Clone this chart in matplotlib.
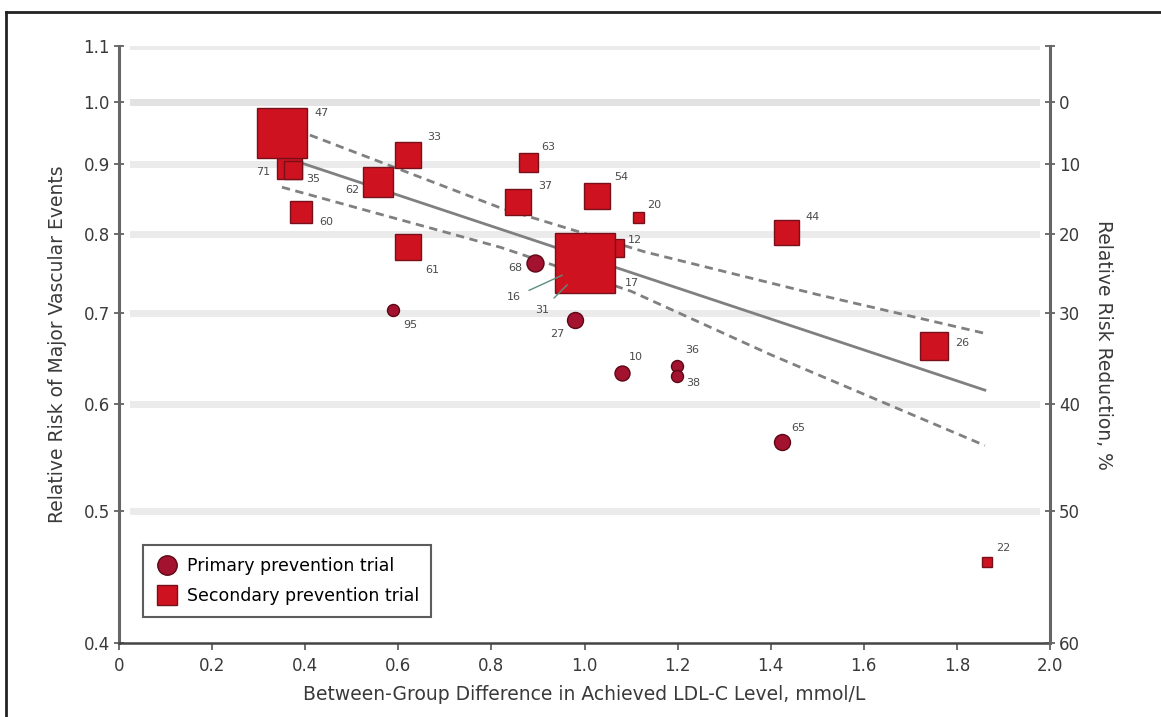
import matplotlib
matplotlib.use("Agg")
import matplotlib.pyplot as plt
from matplotlib.lines import Line2D
from matplotlib.ticker import FixedLocator, FixedFormatter, NullLocator

plt.rcParams['font.family'] = ['DejaVu Sans']

# secondary prevention trials (squares): LDL-C difference, relative risk, marker side (px), label
sec_x = [0.365, 0.374, 0.350, 0.621, 0.556, 0.391, 0.621, 0.879, 0.857, 1.027, 1.115,
         1.065, 0.952, 0.963, 1.001, 1.433, 1.751, 1.865]
sec_rr = [0.897, 0.892, 0.949, 0.914, 0.873, 0.831, 0.782, 0.903, 0.845, 0.853, 0.823,
          0.781, 0.746, 0.734, 0.762, 0.802, 0.662, 0.459]
sec_size = [25, 18, 50, 26, 30, 22, 27, 19, 26, 26, 11,
            18, 10, 10, 60, 25, 28, 10]
sec_lab = ['71', '35', '47', '33', '62', '60', '61', '63', '37', '54', '20',
           '12', '16', '31', '17', '44', '26', '22']

# primary prevention trials (circles)
pri_x = [0.589, 0.894, 0.980, 1.081, 1.199, 1.199, 1.424]
pri_rr = [0.703, 0.761, 0.692, 0.632, 0.640, 0.629, 0.562]
pri_size = [12, 17, 16, 15, 12, 12, 16]
pri_lab = ['95', '68', '27', '10', '36', '38', '65']

# meta-regression line and 95% CI
fit_x = [0.33, 1.86]
fit_rr = [0.917, 0.614]
up_x = [0.41, 0.82, 1.13, 1.5, 1.86]
up_rr = [0.946, 0.836, 0.776, 0.722, 0.676]
lo_x = [0.35, 0.82, 1.1, 1.4, 1.86]
lo_rr = [0.866, 0.782, 0.726, 0.652, 0.559]

y_ticks = [0.4, 0.5, 0.6, 0.7, 0.8, 0.9, 1.0, 1.1]
rrr_ticks = [1.1, 1.0, 0.9, 0.8, 0.7, 0.6, 0.5, 0.4]
rrr_labels = ['', '0', '10', '20', '30', '40', '50', '60']
x_ticks = [0, 0.2, 0.4, 0.6, 0.8, 1.0, 1.2, 1.4, 1.6, 1.8, 2.0]
x_labels = ['0', '0.2', '0.4', '0.6', '0.8', '1.0', '1.2', '1.4', '1.6', '1.8', '2.0']

# label offsets in pixels (dx right, dy down)
lab_off = {'71': (-26, 6), '35': (20, 9), '47': (40, -20), '33': (26, -18), '62': (-26, 8),
           '60': (25, 10), '61': (24, 23), '63': (20, -15), '37': (27, -16), '54': (24, -19),
           '20': (16, -12), '12': (20, -8), '16': (-48, 22), '31': (-25, 25), '17': (47, 20),
           '44': (26, -15), '26': (28, -3), '22': (16, -14), '95': (17, 15), '68': (-20, 5),
           '27': (-18, 14), '10': (14, -16), '36': (15, -16), '38': (16, 7), '65': (16, -14)}
leader = ['16', '31']

sq_face = '#cf121f'
sq_edge = '#76101a'
ci_face = '#a3122e'
ci_edge = '#5e0716'
grey = '#808080'
txt = '#3a3a3a'

fig = plt.figure(figsize=(11.61, 7.17), dpi=100)
ax = fig.add_axes([0.1025, 0.1032, 0.8019, 0.8326])

ax.set_yscale('log')
ax.set_xlim(0, 2.0)
ax.set_ylim(0.4, 1.1)

for yv in [0.5, 0.6, 0.7, 0.8, 0.9, 1.1]:
    ax.axhline(yv, xmin=0.015, xmax=0.985, color='#ebebeb', lw=5, zorder=0)
ax.axhline(1.0, xmin=0.015, xmax=0.985, color='#e2e2e2', lw=5, zorder=0)

ax.plot(fit_x, fit_rr, color=grey, lw=2, zorder=1)
ax.plot(up_x, up_rr, color=grey, lw=2, ls=(0, (3, 2)), zorder=1)
ax.plot(lo_x, lo_rr, color=grey, lw=2, ls=(0, (3, 2)), zorder=1)

px = 0.72  # points per pixel at 100 dpi
for x, y, s in zip(sec_x, sec_rr, sec_size):
    ax.plot(x, y, marker='s', ms=s * px, mfc=sq_face, mec=sq_edge, mew=1, zorder=3)
for x, y, s in zip(pri_x, pri_rr, pri_size):
    ax.plot(x, y, marker='o', ms=s * px, mfc=ci_face, mec=ci_edge, mew=1, zorder=4)

for x, y, lab in list(zip(sec_x, sec_rr, sec_lab)) + list(zip(pri_x, pri_rr, pri_lab)):
    dx, dy = lab_off[lab]
    if lab in leader:
        ax.annotate(lab, (x, y), xytext=(dx * px, -dy * px), textcoords='offset points',
                    ha='center', va='center', fontsize=8, color='#4a4a4a', zorder=5,
                    arrowprops=dict(arrowstyle='-', color='#5a8f80', lw=1, shrinkA=4, shrinkB=0))
    else:
        ax.annotate(lab, (x, y), xytext=(dx * px, -dy * px), textcoords='offset points',
                    ha='center', va='center', fontsize=8, color='#4a4a4a', zorder=5)

ax.yaxis.set_major_locator(FixedLocator(y_ticks))
ax.yaxis.set_major_formatter(FixedFormatter([str(v) for v in y_ticks]))
ax.yaxis.set_minor_locator(NullLocator())
ax.set_xticks(x_ticks)
ax.set_xticklabels(x_labels)

for side in ['top', 'right']:
    ax.spines[side].set_visible(False)
ax.spines['left'].set_color('#666666')
ax.spines['left'].set_linewidth(2.2)
ax.spines['bottom'].set_color('#444444')
ax.spines['bottom'].set_linewidth(1.8)
ax.tick_params(axis='y', direction='inout', colors='#555555', labelcolor=txt, labelsize=12,
               length=7, width=1.2, pad=3)
ax.tick_params(axis='x', direction='out', colors='#555555', labelcolor=txt, labelsize=12,
               length=5, width=1.2, pad=5)

ax2 = ax.twinx()
ax2.set_yscale('log')
ax2.set_ylim(0.4, 1.1)
ax2.yaxis.set_major_locator(FixedLocator(rrr_ticks))
ax2.yaxis.set_major_formatter(FixedFormatter(rrr_labels))
ax2.yaxis.set_minor_locator(NullLocator())
for side in ['top', 'left', 'bottom']:
    ax2.spines[side].set_visible(False)
ax2.spines['right'].set_color('#666666')
ax2.spines['right'].set_linewidth(2.2)
ax2.tick_params(axis='y', direction='inout', colors='#555555', labelcolor=txt, labelsize=12,
                length=7, width=1.2, pad=3)

ax.set_xlabel('Between-Group Difference in Achieved LDL-C Level, mmol/L', fontsize=13.5,
              color=txt, labelpad=7)
ax.set_ylabel('Relative Risk of Major Vascular Events', fontsize=13.5, color=txt, labelpad=12)
ax2.set_ylabel('Relative Risk Reduction, %', fontsize=13.5, color=txt, rotation=270, labelpad=24)

handles = [Line2D([], [], ls='none', marker='o', ms=14, mfc=ci_face, mec=ci_edge),
           Line2D([], [], ls='none', marker='s', ms=14, mfc=sq_face, mec=sq_edge)]
leg = ax.legend(handles, ['Primary prevention trial', 'Secondary prevention trial'],
                loc='lower left', bbox_to_anchor=(0.026, 0.044), borderaxespad=0,
                fontsize=12.5, frameon=True, fancybox=False, labelspacing=0.65,
                handletextpad=0.5, borderpad=0.7, handlelength=1.3)
leg.get_frame().set_edgecolor('#333333')
leg.get_frame().set_linewidth(1.5)
leg.set_zorder(6)

# outer panel frame (cropped at right and bottom)
fig.add_artist(Line2D([0.005, 1.0], [0.983, 0.983], transform=fig.transFigure, color='#222222', lw=2))
fig.add_artist(Line2D([0.005, 0.005], [0.0, 0.983], transform=fig.transFigure, color='#222222', lw=2))

fig.savefig('out.png', dpi=100)
